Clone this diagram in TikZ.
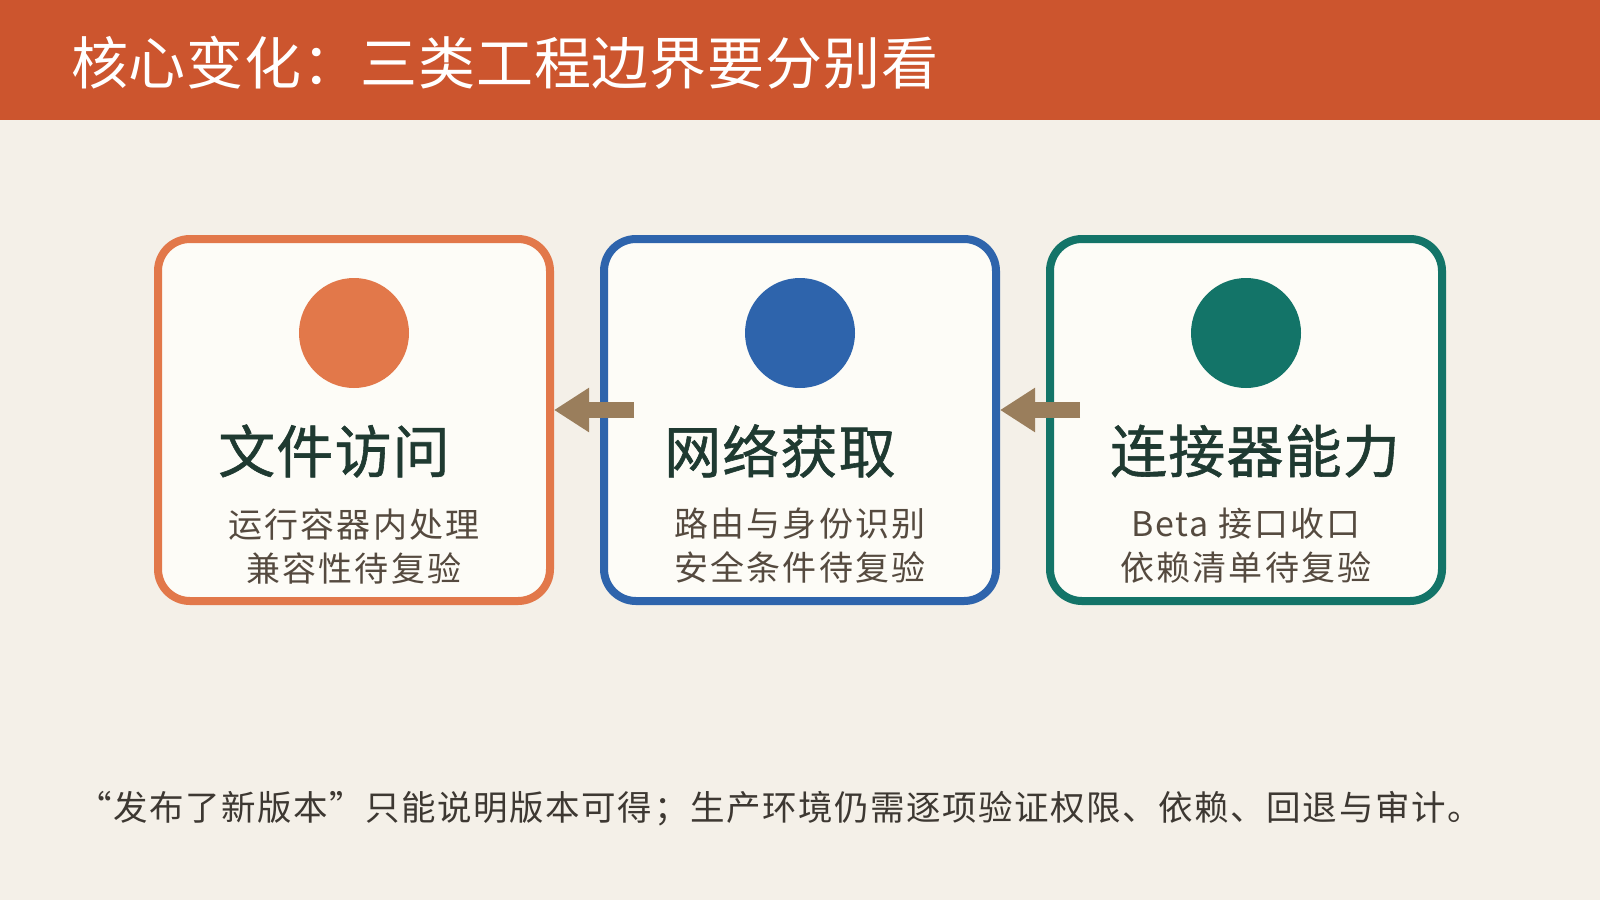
\documentclass[tikz,border=0pt]{standalone}
\usepackage{fontspec}
\setmainfont{Noto Sans CJK SC}
\usepackage{tikz}
\usetikzlibrary{arrows.meta,positioning}

\definecolor{barcol}{HTML}{CC552E}
\definecolor{pagecol}{HTML}{F4F0E8}
\definecolor{cardcol}{HTML}{FDFCF7}
\definecolor{orangecol}{HTML}{E2784A}
\definecolor{bluecol}{HTML}{2E64AC}
\definecolor{tealcol}{HTML}{137468}
\definecolor{arrowcol}{HTML}{9A7E5C}
\definecolor{headcol}{HTML}{1F3A31}
\definecolor{notecol}{HTML}{554A3F}
\definecolor{footcol}{HTML}{3D3832}

\tikzset{
    card/.style={draw, line width=8pt, rounded corners=32pt, fill=cardcol,
        minimum width=392pt, minimum height=362pt, inner sep=0pt},
    dot/.style={circle, inner sep=0pt, minimum size=110pt},
    cardhead/.style={inner sep=0pt, anchor=west, text=headcol,
        font=\fontsize{57}{60}\selectfont\addfontfeature{LetterSpace=2,FakeBold=1}},
    cardnote/.style={inner sep=0pt, text=notecol, align=center,
        font=\fontsize{34}{44}\selectfont\addfontfeature{LetterSpace=6}},
    flowarrow/.style={arrowcol, line width=16pt, -{Triangle[length=35pt,width=42pt]}}
}

\begin{document}
\begin{tikzpicture}[x=1pt,y=-1pt]
    \useasboundingbox (0,0) rectangle (1600,900);
    \fill[pagecol] (0,0) rectangle (1600,900);
    \fill[barcol] (0,0) rectangle (1600,120);
    \node[anchor=west, inner sep=0pt, text=white,
        font=\fontsize{57}{60}\selectfont\addfontfeature{LetterSpace=1.5}] (title) at (71,63) {核心变化：三类工程边界要分别看};

    \foreach \name/\xc/\col/\head/\lineA/\lineB in {
            file/354/orangecol/文件访问/运行容器内处理/兼容性待复验,
            net/800/bluecol/网络获取/路由与身份识别/安全条件待复验,
            conn/1246/tealcol/连接器能力/Beta 接口收口/依赖清单待复验}
    {
        \node[card, draw=\col] (card-\name) at (\xc,420) {};
        \node[dot, fill=\col] (dot-\name) at (\xc,333) {};
        \node[cardhead] (head-\name) at ([xshift=64pt,yshift=-31pt]card-\name.west) {\head};
        \node[cardnote] (note-\name) at (\xc,546) {\lineA\\\lineB};
    }

    \draw[flowarrow] ([xshift=34pt,yshift=10pt]card-net.west) -- ([yshift=10pt]card-file.east);
    \draw[flowarrow] ([xshift=34pt,yshift=10pt]card-conn.west) -- ([yshift=10pt]card-net.east);

    \node[anchor=west, inner sep=0pt, text=footcol,
        font=\fontsize{34.5}{40}\selectfont\addfontfeature{LetterSpace=4.5}] (foot) at (77,809) {“发布了新版本”只能说明版本可得；生产环境仍需逐项验证权限、依赖、回退与审计。};
\end{tikzpicture}
\end{document}
